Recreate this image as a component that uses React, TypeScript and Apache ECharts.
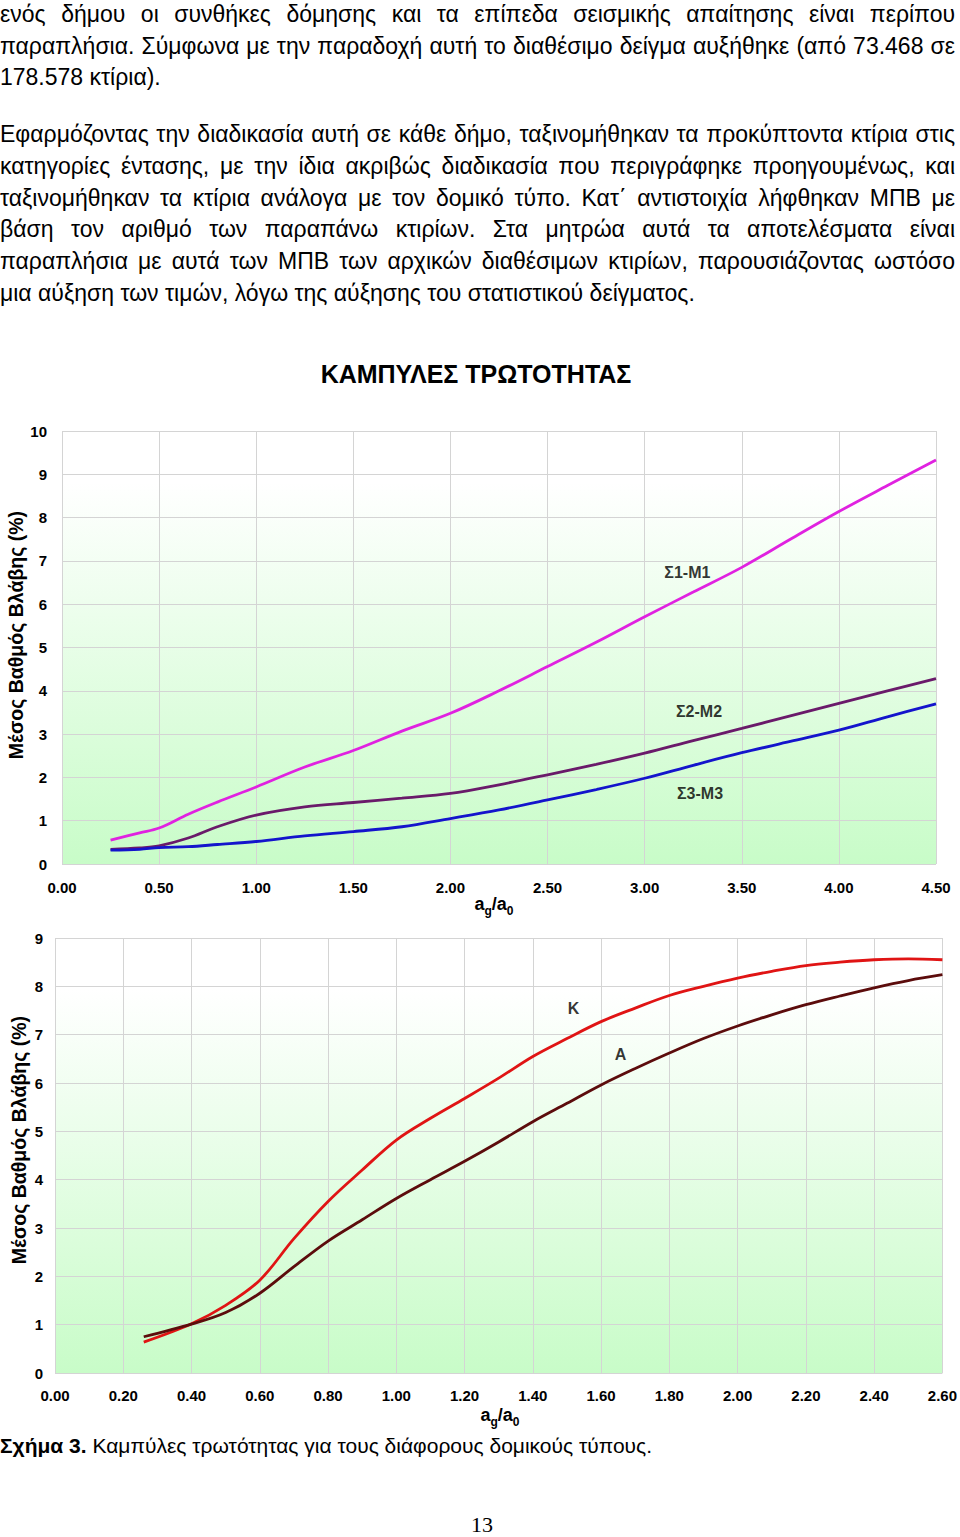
import React, { useEffect, useRef } from "react";
import * as echarts from "echarts";

const para1 = [
  "ενός δήμου οι συνθήκες δόμησης και τα επίπεδα σεισμικής απαίτησης είναι περίπου",
  "παραπλήσια. Σύμφωνα με την παραδοχή αυτή το διαθέσιμο δείγμα αυξήθηκε (από 73.468 σε",
  "178.578 κτίρια).",
];
const para2 = [
  "Εφαρμόζοντας την διαδικασία αυτή σε κάθε δήμο, ταξινομήθηκαν τα προκύπτοντα κτίρια στις",
  "κατηγορίες έντασης, με την ίδια ακριβώς διαδικασία που περιγράφηκε προηγουμένως, και",
  "ταξινομήθηκαν τα κτίρια ανάλογα με τον δομικό τύπο. Κατ΄ αντιστοιχία λήφθηκαν ΜΠΒ με",
  "βάση τον αριθμό των παραπάνω κτιρίων. Στα μητρώα αυτά τα αποτελέσματα είναι",
  "παραπλήσια με αυτά των ΜΠΒ των αρχικών διαθέσιμων κτιρίων, παρουσιάζοντας ωστόσο",
  "μια αύξηση των τιμών, λόγω της αύξησης του στατιστικού δείγματος.",
];
const captionBold = "Σχήμα 3.";
const captionText = " Καμπύλες τρωτότητας για τους διάφορους δομικούς τύπους.";
const pageNumber = "13";

const chartTitle = "ΚΑΜΠΥΛΕΣ ΤΡΩΤΟΤΗΤΑΣ";
const yAxisTitle = "Μέσος Βαθμός Βλάβης (%)";

// Chart 1
const chart1X = [0.25, 0.4, 0.5, 0.65, 0.8, 1.0, 1.25, 1.5, 1.75, 2.0, 2.25, 2.5, 2.75, 3.0, 3.25, 3.5, 3.75, 4.0, 4.25, 4.5];
const s1m1 = [0.55, 0.72, 0.83, 1.15, 1.43, 1.78, 2.24, 2.62, 3.07, 3.48, 4.0, 4.56, 5.12, 5.71, 6.28, 6.85, 7.5, 8.14, 8.74, 9.33];
const s2m2 = [0.34, 0.37, 0.42, 0.6, 0.86, 1.13, 1.32, 1.42, 1.52, 1.63, 1.83, 2.06, 2.3, 2.56, 2.85, 3.13, 3.42, 3.71, 4.0, 4.28];
const s3m3 = [0.32, 0.34, 0.38, 0.4, 0.45, 0.52, 0.65, 0.75, 0.86, 1.05, 1.25, 1.48, 1.72, 1.98, 2.28, 2.57, 2.83, 3.09, 3.4, 3.7];
const chart1Names = ["Σ1-Μ1", "Σ2-Μ2", "Σ3-Μ3"];
const chart1Colors = ["#e022e0", "#6a1a6a", "#1414cc"];
const chart1LabelX = [3.22, 3.28, 3.285];
const chart1LabelY = [6.74, 3.53, 1.63];

// Chart 2
const chart2X = [0.26, 0.4, 0.5, 0.6, 0.7, 0.8, 0.9, 1.0, 1.1, 1.2, 1.3, 1.4, 1.5, 1.6, 1.7, 1.8, 1.9, 2.0, 2.1, 2.2, 2.3, 2.4, 2.5, 2.6];
const kValues = [0.64, 1.02, 1.4, 1.92, 2.78, 3.55, 4.2, 4.82, 5.27, 5.68, 6.1, 6.55, 6.92, 7.27, 7.55, 7.81, 8.0, 8.17, 8.31, 8.43, 8.5, 8.55, 8.57, 8.55];
const aValues = [0.75, 1.01, 1.25, 1.65, 2.2, 2.73, 3.17, 3.61, 4.0, 4.38, 4.78, 5.2, 5.58, 5.96, 6.3, 6.62, 6.92, 7.18, 7.41, 7.62, 7.8, 7.97, 8.12, 8.24];
const chart2Names = ["Κ", "Α"];
const chart2Colors = ["#e01414", "#5c0c0c"];
const chart2LabelX = [1.519, 1.657];
const chart2LabelY = [7.55, 6.58];

const FONT = "'Liberation Sans', Arial, sans-serif";

const pairs = (xs: number[], ys: number[]) => xs.map((x, i) => [x, ys[i]]);

function App() {
  const ref = useRef<HTMLDivElement>(null);

  useEffect(() => {
    if (!ref.current) return;
    const chart = echarts.init(ref.current, null, { renderer: "svg" });
    const bg = new echarts.graphic.LinearGradient(0, 0, 0, 1, [
      { offset: 0, color: "#ffffff" },
      { offset: 0.12, color: "#ffffff" },
      { offset: 1, color: "#c8fcc8" },
    ]);
    const axisLabel = { color: "#000", fontWeight: "bold" as const, fontSize: 15, fontFamily: FONT };
    const splitLine = { show: true, lineStyle: { color: "#d4d4d4", width: 1 } };
    const axisName = {
      text: "{a|a}{s|g}{a|/a}{s|0}",
      rich: {
        a: { fontSize: 18, fontWeight: "bold", fontFamily: FONT, fill: "#000", lineHeight: 22, verticalAlign: "top" },
        s: { fontSize: 12, fontWeight: "bold", fontFamily: FONT, fill: "#000", lineHeight: 22, verticalAlign: "bottom", padding: [7, 0, 0, 0] },
      },
      textAlign: "center",
      textVerticalAlign: "middle",
    };

    const lineSeries = (name: string, color: string, xi: number, xs: number[], ys: number[]) => ({
      type: "line",
      name,
      xAxisIndex: xi,
      yAxisIndex: xi,
      data: pairs(xs, ys),
      smooth: 0.35,
      showSymbol: false,
      symbol: "none",
      lineStyle: { color, width: 2.8 },
      z: 3,
    });

    const labelSeries = (xi: number, names: string[], xs: number[], ys: number[]) => ({
      type: "scatter",
      xAxisIndex: xi,
      yAxisIndex: xi,
      symbolSize: 0,
      data: names.map((n, i) => ({ value: [xs[i], ys[i]], name: n })),
      label: {
        show: true,
        position: "inside",
        formatter: (p: any) => p.name,
        color: "#000",
        fontWeight: "bold",
        fontSize: 16,
        fontFamily: FONT,
      },
      silent: true,
      z: 5,
    });

    chart.setOption({
      animation: false,
      grid: [
        { left: 62, top: 431, width: 874, height: 433, show: true, backgroundColor: bg, borderWidth: 0 },
        { left: 55, top: 938, width: 889, height: 435, show: true, backgroundColor: bg, borderWidth: 0 },
      ],
      xAxis: [
        {
          type: "value", gridIndex: 0, min: 0, max: 4.5, interval: 0.5,
          axisLine: { show: false }, axisTick: { show: false }, splitLine,
          axisLabel: { ...axisLabel, margin: 16, formatter: (v: number) => v.toFixed(2) },
        },
        {
          type: "value", gridIndex: 1, min: 0, max: 2.6, interval: 0.2,
          axisLine: { show: false }, axisTick: { show: false }, splitLine,
          axisLabel: { ...axisLabel, margin: 15, formatter: (v: number) => v.toFixed(2) },
        },
      ],
      yAxis: [
        {
          type: "value", gridIndex: 0, min: 0, max: 10, interval: 1,
          axisLine: { show: false }, axisTick: { show: false }, splitLine,
          axisLabel: { ...axisLabel, margin: 15 },
        },
        {
          type: "value", gridIndex: 1, min: 0, max: 9, interval: 1,
          axisLine: { show: false }, axisTick: { show: false }, splitLine,
          axisLabel: { ...axisLabel, margin: 12 },
        },
      ],
      series: [
        lineSeries(chart1Names[0], chart1Colors[0], 0, chart1X, s1m1),
        lineSeries(chart1Names[1], chart1Colors[1], 0, chart1X, s2m2),
        lineSeries(chart1Names[2], chart1Colors[2], 0, chart1X, s3m3),
        labelSeries(0, chart1Names, chart1LabelX, chart1LabelY),
        lineSeries(chart2Names[0], chart2Colors[0], 1, chart2X, kValues),
        lineSeries(chart2Names[1], chart2Colors[1], 1, chart2X, aValues),
        labelSeries(1, chart2Names, chart2LabelX, chart2LabelY),
      ],
      graphic: [
        {
          type: "text", x: 476, y: 374,
          style: { text: chartTitle, fontSize: 25, fontWeight: "bold", fontFamily: FONT, fill: "#000", textAlign: "center", textVerticalAlign: "middle" },
        },
        {
          type: "text", x: 16, y: 635, rotation: Math.PI / 2,
          style: { text: yAxisTitle, fontSize: 19.5, fontWeight: "bold", fontFamily: FONT, fill: "#000", textAlign: "center", textVerticalAlign: "middle" },
        },
        {
          type: "text", x: 19, y: 1140, rotation: Math.PI / 2,
          style: { text: yAxisTitle, fontSize: 19.5, fontWeight: "bold", fontFamily: FONT, fill: "#000", textAlign: "center", textVerticalAlign: "middle" },
        },
        { type: "text", x: 494, y: 906, style: { ...axisName } },
        { type: "text", x: 500, y: 1417, style: { ...axisName } },
      ],
    });
    return () => chart.dispose();
  }, []);

  const lineStyle = (top: number, last: boolean): React.CSSProperties => ({
    position: "absolute",
    left: 0,
    top,
    width: 955,
    height: 32,
    lineHeight: "32px",
    fontSize: 23,
    fontFamily: FONT,
    color: "#000",
    whiteSpace: "nowrap",
    textAlign: last ? "left" : "justify",
    textAlignLast: last ? "left" : "justify",
  } as React.CSSProperties);

  return (
    <div style={{ position: "absolute", left: 0, top: 0, width: 960, height: 1537, background: "#fff", overflow: "hidden" }}>
      <div ref={ref} style={{ position: "absolute", left: 0, top: 0, width: 960, height: 1537 }} />
      {para1.map((t, i) => (
        <div key={"p1" + i} style={lineStyle(-2 + i * 31.6, i === para1.length - 1)}>{t}</div>
      ))}
      {para2.map((t, i) => (
        <div key={"p2" + i} style={lineStyle(118 + i * 31.8, i === para2.length - 1)}>{t}</div>
      ))}
      <div style={{ position: "absolute", left: 0, top: 1430, height: 32, lineHeight: "32px", fontSize: 21, fontFamily: FONT, color: "#000", whiteSpace: "nowrap" }}>
        <b>{captionBold}</b>{captionText}
      </div>
      <div style={{ position: "absolute", left: 432, width: 100, top: 1509, height: 32, lineHeight: "32px", fontSize: 22, fontFamily: "'Liberation Serif', 'Times New Roman', serif", color: "#000", textAlign: "center" }}>
        {pageNumber}
      </div>
    </div>
  );
}

export default App;
